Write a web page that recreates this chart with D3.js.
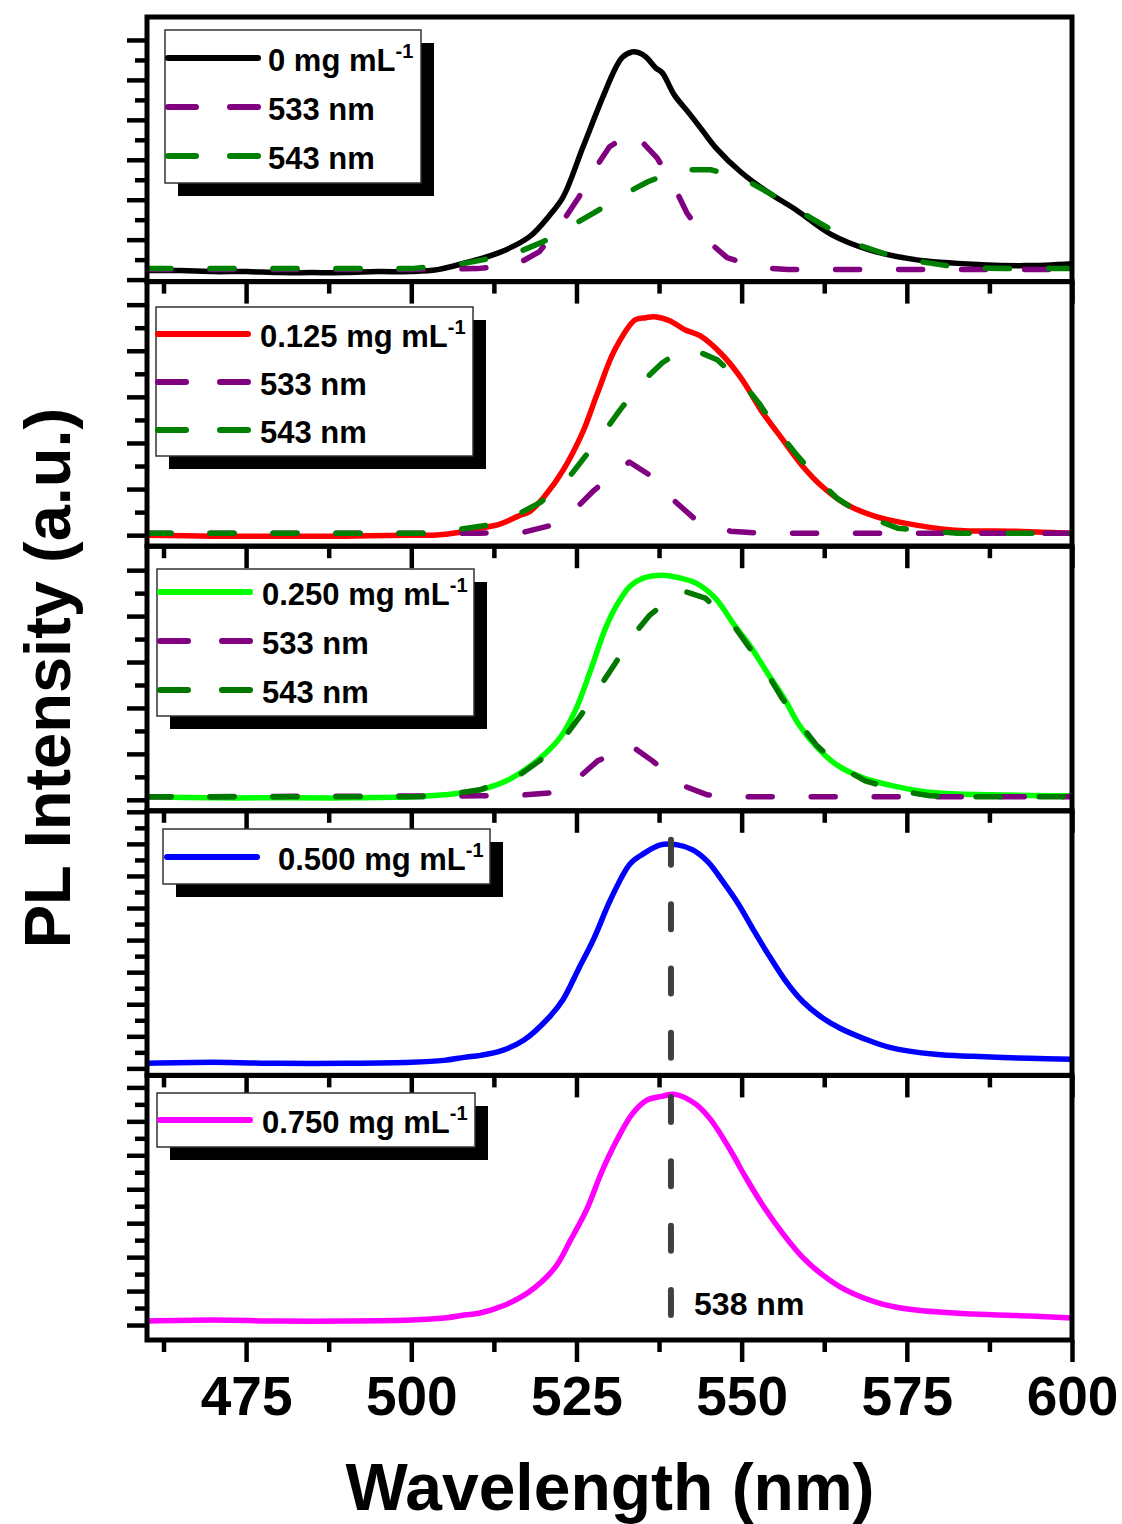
<!DOCTYPE html>
<html><head><meta charset="utf-8">
<script src="https://cdn.jsdelivr.net/npm/d3@7"></script>
<style>
body{margin:0;background:#fff}
text{font-family:"Liberation Sans",Arial,sans-serif;font-weight:bold;fill:#000}
</style>
</head><body>
<svg id="c" width="1122" height="1524"></svg>
<script>
// ---------------- DATA ----------------
const wavelengthTicks = [475, 500, 525, 550, 575, 600];
const wavelengthMinorTicks = [462.5, 487.5, 512.5, 537.5, 562.5, 587.5];
const concentrations = ["0", "0.125", "0.250", "0.500", "0.750"]; // mg mL-1
const fitLabels = ["533 nm", "543 nm"];
const peakMarker = 539.3;          // dashed guide line position (nm)
const peakLabel = "538 nm";

// PL spectra [wavelength nm, intensity a.u.]
const pl_0 = [[460,9],[465,9],[470,8],[475,8],[480,7],[485,7],[490,7],[495,8],[500,8],[504,10],[508.3,17],[513.3,27],[517.9,43],[521,65],[523,83],[526,133],[529,183],[531,213],[532,223],[533.4,228],[534.5,227],[535.5,223],[537,212],[538,207],[539.8,185],[542,167],[544,150],[546.1,132],[550,107],[554.1,87],[558.2,70],[563.6,45],[569.2,30],[576.3,20],[586.3,15],[593,14],[600,16]];
const fit533_0 = [[460,10],[500,10],[510,11],[515.9,15],[519.4,28],[522.8,57],[525.4,83],[527.7,110],[530,133],[533.5,148],[537.2,122],[539.8,93],[541.7,67],[544.3,42],[547.8,22],[552.6,12],[557,10],[600,10]];
const fit543_0 = [[460,11],[500,11],[507,15],[511,20],[516,27],[520,38],[524,53],[527.7,67],[532.1,85],[535.8,98],[540.5,110],[545.3,110],[550,102],[553.8,88],[557.9,72],[561.7,57],[564.4,47],[568.4,33],[573.4,22],[578,17],[583,12],[590,11],[600,11]];

const pl_0125 = [[460,0],[470,-1],[480,-1],[490,-1],[500,0],[503.3,0],[507.4,3],[510.4,7],[513.4,11],[516.2,19],[518,24],[520.2,39],[523,65],[525.9,102],[528.2,142],[530.8,185],[533.9,215],[535.5,217],[536.8,218],[539.1,214],[541.4,205],[543.7,199],[547.2,179],[550.1,155],[552.9,125],[555.8,99],[559.2,69],[562.1,49],[565.5,32],[570.1,19],[574.7,12],[582.2,5],[590.8,4],[600,2]];
const fit533_0125 = [[460,2],[510.4,2],[517,3],[520.7,9],[524.5,24],[527.7,45],[533,73],[536.3,59],[539.7,35],[543.1,15],[548.3,4],[552.9,2],[600,2]];
const fit543_0125 = [[460,2],[503,2],[507.4,6],[511.5,10],[516.2,21],[519.6,33],[523.3,53],[525.9,75],[529.3,104],[531.6,125],[534.8,152],[538,172],[541,185],[543.1,184],[546.3,175],[550.1,152],[552.6,132],[555.5,104],[558.1,82],[561.6,55],[564.4,37],[568.4,20],[573.6,7],[577.9,4],[582.7,2],[600,2]];

const pl_0250 = [[460,3],[470,2],[480,2],[490,2],[500,3],[505,5],[510.4,10],[514.4,19],[519,39],[522.5,62],[524.8,89],[527.1,129],[529.4,172],[531.1,195],[533.1,214],[535.1,222],[538,225],[540.8,222],[543.1,217],[546,202],[548.9,175],[551.2,155],[554.1,125],[556.4,102],[558.7,75],[561.5,52],[564.4,35],[568.4,22],[573.6,13],[579.3,7],[587.9,5],[600,4]];
const fit533_0250 = [[460,3],[510.4,4],[517.3,5],[521,7],[525.3,22],[528.2,39],[533.3,54],[536.5,39],[540.8,15],[544.8,5],[550.6,3],[600,3]];
const fit543_0250 = [[460,3],[503,3],[510.4,10],[516.2,24],[519.4,39],[523.1,62],[525.7,85],[528.6,114],[530.9,137],[533.5,164],[536.1,185],[540.8,210],[544.5,202],[548.3,179],[550.9,155],[553.8,127],[556.1,102],[558.7,77],[561.3,55],[564.7,34],[568.7,19],[573.9,9],[578.5,4],[583.4,3],[600,3]];

const pl_0500 = [[460,5],[470,6],[480,5],[490,5],[500,6],[505,8],[508,11],[510.5,13],[513.8,18],[517,28],[521,52],[523,69],[525.3,99],[527.6,129],[530.2,169],[533.1,204],[535.1,214],[537.7,223],[540.3,223],[542.6,218],[544.9,206],[547.2,186],[549.5,164],[551.8,138],[554.1,113],[556.9,85],[559.2,67],[562.1,51],[564.9,40],[568.4,30],[572.4,21],[579.3,14],[585,12],[593.7,10],[600,9]];

const pl_0750 = [[460,4],[470,5],[480,4],[490,4],[500,5],[505,7],[508,10],[510.4,12],[513.8,19],[517.8,33],[521.8,58],[524.1,85],[526.5,115],[528.8,153],[531.1,185],[533.4,211],[535.6,225],[537.9,229],[539.9,231],[543.1,221],[545.4,205],[548.3,175],[550.6,148],[553.4,118],[556.3,91],[559.2,68],[562.1,51],[565.5,36],[571.3,21],[576.4,15],[585,11],[593.7,9],[600,7]];

// per-panel intensity ranges and tick steps (a.u.)
const yDomains = [[-2,263],[-11,253],[-11,254],[-7,257],[-15,250]];
const yTickSteps = [20, 23, 23, 16, 17];
const yTickMax = [240, 230, 230, 256, 238];
const markerRange = [228, -3]; // top (panel 4 a.u.), bottom (panel 5 a.u.)

// ---------------- STYLE / LAYOUT ----------------
const mainColors = ["#000000", "#ff0000", "#00ff00", "#0000ff", "#ff00ff"];
const fitColors533 = ["#800080", "#800080", "#800080"];
const fitColors543 = ["#008000", "#008000", "#007800"];
const L = {left:147, right:1072, top:17, bottom:1340};
const panelH = (L.bottom - L.top) / 5;
const legendLayout = [
  {x:165, y:30,  w:256, h:153, lineX:168, textX:268, rows:[58,107,156]},
  {x:156, y:307, w:317, h:149, lineX:158, textX:260, rows:[334,382,430]},
  {x:157, y:569, w:317, h:147, lineX:160, textX:262, rows:[592,641,690]},
  {x:163, y:829, w:327, h:55,  lineX:167, textX:278, rows:[857]},
  {x:157, y:1093,w:318, h:54,  lineX:160, textX:262, rows:[1120]}
];

const panels = [
  {main: pl_0,    fits: [fit533_0, fit543_0]},
  {main: pl_0125, fits: [fit533_0125, fit543_0125]},
  {main: pl_0250, fits: [fit533_0250, fit543_0250]},
  {main: pl_0500, fits: []},
  {main: pl_0750, fits: []}
];

const svg = d3.select("#c");
const x = d3.scaleLinear().domain([460, 600]).range([L.left, L.right]);
const DASH = "24,39";
const yScales = [];

panels.forEach((p, i) => {
  const y0 = L.top + i * panelH, y1 = y0 + panelH;
  const y = d3.scaleLinear().domain(yDomains[i]).range([y1, y0]);
  yScales.push(y);
  const g = svg.append("g");
  const clipId = "clip" + i;
  svg.append("clipPath").attr("id", clipId).append("rect")
    .attr("x", L.left).attr("y", y0).attr("width", L.right - L.left).attr("height", panelH);
  const cg = g.append("g").attr("clip-path", `url(#${clipId})`);
  const lineMain = d3.line().x(d => x(d[0])).y(d => y(d[1])).curve(d3.curveCatmullRom.alpha(0.5));
  const lineFit = d3.line().x(d => x(d[0])).y(d => y(d[1]));
  cg.append("path").datum(p.main).attr("d", lineMain)
    .attr("fill", "none").attr("stroke", mainColors[i]).attr("stroke-width", 5.5)
    .attr("stroke-linejoin", "round").attr("stroke-linecap", "round");
  p.fits.forEach((f, k) => {
    cg.append("path").datum(f).attr("d", lineFit)
      .attr("fill", "none").attr("stroke", k === 0 ? fitColors533[i] : fitColors543[i])
      .attr("stroke-width", 5.5).attr("stroke-dasharray", DASH)
      .attr("stroke-linecap", "round").attr("stroke-linejoin", "round");
  });

  // y ticks (left, outward)
  const majors = d3.range(0, yTickMax[i] + 0.01, 2 * yTickSteps[i]);
  const minors = d3.range(yTickSteps[i], yTickMax[i] + 0.01, 2 * yTickSteps[i]);
  const ya = g.append("g").attr("transform", `translate(${L.left},0)`)
    .call(d3.axisLeft(y).tickValues(majors).tickSize(20).tickFormat(""));
  const yb = g.append("g").attr("transform", `translate(${L.left},0)`)
    .call(d3.axisLeft(y).tickValues(minors).tickSize(12).tickFormat(""));
  // x ticks (bottom, outward)
  const isLast = i === panels.length - 1;
  const xa = g.append("g").attr("transform", `translate(0,${y1})`)
    .call(d3.axisBottom(x).tickValues(wavelengthTicks).tickSize(22).tickPadding(14)
      .tickFormat(isLast ? d3.format("d") : ""));
  const xb = g.append("g").attr("transform", `translate(0,${y1})`)
    .call(d3.axisBottom(x).tickValues(wavelengthMinorTicks).tickSize(12).tickFormat(""));
  [ya, yb, xa, xb].forEach(a => {
    a.select(".domain").remove();
    a.selectAll(".tick line").attr("stroke", "#000").attr("stroke-width", 4.5);
  });
  xa.selectAll(".tick text").style("font-size", "55px").attr("fill", "#000");

  // frame
  g.append("rect").attr("x", L.left).attr("y", y0).attr("width", L.right - L.left).attr("height", panelH)
    .attr("fill", "none").attr("stroke", "#000").attr("stroke-width", 5);

  // legend
  const lg = legendLayout[i];
  g.append("rect").attr("x", lg.x + 13).attr("y", lg.y + 13).attr("width", lg.w).attr("height", lg.h).attr("fill", "#000");
  g.append("rect").attr("x", lg.x).attr("y", lg.y).attr("width", lg.w).attr("height", lg.h)
    .attr("fill", "#fff").attr("stroke", "#333").attr("stroke-width", 1.5);
  const entries = [{label: concentrations[i], color: mainColors[i], dash: null, main: true}];
  p.fits.forEach((f, k) => entries.push({label: fitLabels[k], color: k === 0 ? fitColors533[i] : fitColors543[i], dash: DASH}));
  entries.forEach((e, r) => {
    const ry = lg.rows[r];
    g.append("line").attr("x1", lg.lineX).attr("x2", lg.lineX + 90).attr("y1", ry).attr("y2", ry)
      .attr("stroke", e.color).attr("stroke-width", 6).attr("stroke-linecap", "round")
      .attr("stroke-dasharray", e.dash ? "28,34" : null);
    const t = g.append("text").attr("x", lg.textX).attr("y", ry + 13).style("font-size", "31px");
    if (e.main) {
      t.append("tspan").text(e.label + " mg mL");
      t.append("tspan").attr("dy", -13).style("font-size", "20px").text("-1");
    } else {
      t.text(e.label);
    }
  });
});

// peak guide line across panels 4-5
svg.append("line")
  .attr("x1", x(peakMarker)).attr("x2", x(peakMarker))
  .attr("y1", yScales[3](markerRange[0])).attr("y2", yScales[4](markerRange[1]))
  .attr("stroke", "#404040").attr("stroke-width", 6)
  .attr("stroke-dasharray", "25,39.3").attr("stroke-linecap", "round");
svg.append("text").attr("x", x(542.8)).attr("y", yScales[4](10))
  .style("font-size", "32px").text(peakLabel);

// axis titles
svg.append("text").attr("x", 610).attr("y", 1510).attr("text-anchor", "middle")
  .style("font-size", "66px").text("Wavelength (nm)");
svg.append("text").attr("transform", "translate(70,678) rotate(-90)").attr("text-anchor", "middle")
  .style("font-size", "65px").text("PL Intensity (a.u.)");
</script>
</body></html>
